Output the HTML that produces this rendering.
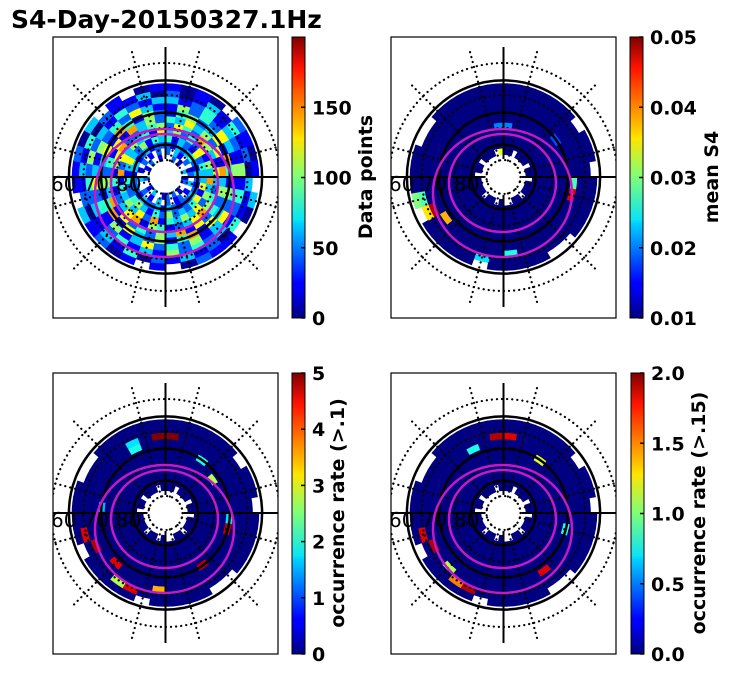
<!DOCTYPE html>
<html><head><meta charset="utf-8"><style>
html,body{margin:0;padding:0;background:#fff;}
svg{display:block;font-family:"DejaVu Sans","Liberation Sans",sans-serif;}
.tk{font-size:19px;font-weight:bold;fill:#000;}
.lb{font-size:19px;font-weight:bold;fill:#000;}
.lat{font-size:20px;fill:#000;}
</style></head><body>
<svg id="fig" width="731" height="674" viewBox="0 0 731 674" xmlns="http://www.w3.org/2000/svg">
<defs>
<linearGradient id="jet" x1="0" y1="1" x2="0" y2="0">
<stop offset="0" stop-color="#00007f"/><stop offset="0.11" stop-color="#0000ff"/><stop offset="0.125" stop-color="#0000ff"/>
<stop offset="0.34" stop-color="#00d4ff"/><stop offset="0.35" stop-color="#0ae4f5"/><stop offset="0.5" stop-color="#7dff7a"/>
<stop offset="0.64" stop-color="#ffe600"/><stop offset="0.66" stop-color="#ffd200"/><stop offset="0.89" stop-color="#ff1300"/><stop offset="1" stop-color="#7f0000"/>
</linearGradient>
</defs>
<text x="11" y="28" style="font-size:25px;font-weight:bold">S4-Day-20150327.1Hz</text>
<g id="panels"></g>
</svg>
<script>
// Panel 1: data points per (ring, sector); digit d -> d/9 * 180, '.' = no data
const p1Rings = [
"..2.1..3.12..1.2.21..3.1..2..1.2..1.",
"2.31.2.12.3.1.21.2.3.1.2..3.1.2.1.2.",
"213234213212322123132231222133123122",
"413216243361642325241354224136325143",
"352426153735263534172635341726353416",
"264275316324576321451763214156722345",
"436352617352426173524261735241617352",
"145236174152361741523617415236174152",
"152426315142631524263151426315242631",
"312413215142132425131421324252314213",
"201314120311402131204131021314021130",
"1010.2101.30.1120.1.10213.11203.1.01"
];
const p1Max = [200];
// Panels 2-4 shared coverage mask ('#' data, '.' none)
const covRings = [
"....................................",
"##.###.##.###.##..#.##.####.##.###.#",
"####################################",
"####################################",
"####################################",
"####################################",
"####################################",
"####################################",
"####################################",
"####################################",
"####################################",
"#####.##.####..####.####.####..#####"
];
// highlights: [ring, sector, fraction of colour range]
const p2Hi = [[1,35,0.6],[5,35,0.25],[5,0,0.25],[9,24,0.95],[10,24,0.65],[10,25,0.45],[11,25,0.5],[8,23,0.7],[9,17,0.4],[10,19,0.35],[8,10,0.9],[8,9,0.45],[7,5,0.2]];
const p3Hi = [[9,35,1.0],[9,0,1.0],[9,33,0.35],[8,33,0.4],[7,3,0.4],[6,5,0.55],[7,9,0.35],[7,10,0.95],[10,25,0.9],[9,24,0.95],[8,22,0.9],[10,21,0.55],[10,20,0.9],[9,18,0.7],[11,19,0.95],[7,14,0.95],[7,27,0.3]];
const p4Hi = [[9,35,0.95],[9,0,0.9],[8,33,0.4],[7,3,0.6],[7,10,0.4],[10,25,0.9],[9,24,0.95],[9,22,0.55],[10,21,0.75],[10,20,0.95],[8,14,0.9],[11,19,0.95]];
const cbTicks1 = ["0","50","100","150"], cbVals1=[0,50,100,150], cbMax1=200;
const cbTicks2 = ["0.01","0.02","0.03","0.04","0.05"], cbVals2=[0,0.25,0.5,0.75,1];
const cbTicks3 = ["0","1","2","3","4","5"], cbVals3=[0,0.2,0.4,0.6,0.8,1];
const cbTicks4 = ["0.0","0.5","1.0","1.5","2.0"], cbVals4=[0,0.25,0.5,0.75,1];
const latLabels = ["60","70","80"];

const NS="http://www.w3.org/2000/svg";
function jet(v){v=Math.max(0,Math.min(1,v));
 const r=Math.max(0,Math.min(1,1.5-Math.abs(4*v-3))),g=Math.max(0,Math.min(1,1.5-Math.abs(4*v-2))),b=Math.max(0,Math.min(1,1.5-Math.abs(4*v-1)));
 return `rgb(${Math.round(r*255)},${Math.round(g*255)},${Math.round(b*255)})`;}
function mk(tag,attrs,parent){const e=document.createElementNS(NS,tag);for(const k in attrs)e.setAttribute(k,attrs[k]);parent.appendChild(e);return e;}
const S=3.22;
function rOf(lat){return (90-lat)*S;}
function sector(cx,cy,r1,r2,a1,a2){
 const p=(r,a)=>[cx+r*Math.sin(a*Math.PI/180),cy-r*Math.cos(a*Math.PI/180)];
 const [x1,y1]=p(r2,a1),[x2,y2]=p(r2,a2),[x3,y3]=p(r1,a2),[x4,y4]=p(r1,a1);
 return `M${x1},${y1}A${r2},${r2} 0 0 1 ${x2},${y2}L${x3},${y3}A${r1},${r1} 0 0 0 ${x4},${y4}Z`;}
const root=document.getElementById('panels');
function panel(idx,bx,by,cell){
 const g=mk('g',{},root);
 
 
 const cp=mk('clipPath',{id:'cp'+idx},g);mk('rect',{x:bx,y:by,width:225,height:281},cp);
 const cg=mk('g',{'clip-path':`url(#cp${idx})`},g);
 const cx=bx+112.5, cy=by+140;
 for(let i=0;i<12;i++)for(let j=0;j<36;j++){
  const v=cell(i,j); if(v===null)continue;
  const r1=rOf(85-2*i), r2=rOf(83-2*i);
  const col=jet(v);
  const c=mk('path',{d:sector(cx,cy,r1,r2,j*10,j*10+10),fill:col,stroke:col,'stroke-width':0.8},cg);
  
  
 }
 // dotted grid
 [17,49,82,114].forEach(r=>mk('circle',{cx,cy,r,fill:'none',stroke:'#000','stroke-width':2.2,'stroke-dasharray':'0.1 5','stroke-linecap':'round'},cg));
 for(let a=15;a<360;a+=30){const s=Math.sin(a*Math.PI/180),c=-Math.cos(a*Math.PI/180);
  mk('line',{x1:cx+17*s,y1:cy+17*c,x2:cx+132*s,y2:cy+132*c,stroke:'#000','stroke-width':2.2,'stroke-dasharray':'0.1 5','stroke-linecap':'round'},cg);}
 // solid lat circles
 [60,70,80].forEach(l=>mk('circle',{cx,cy,r:rOf(l),fill:'none',stroke:'#000','stroke-width':2.5},cg));
 // crosshair
 mk('line',{x1:cx,y1:cy-130,x2:cx,y2:cy-18,stroke:'#000','stroke-width':2},cg);
 mk('line',{x1:cx,y1:cy+18,x2:cx,y2:cy+130,stroke:'#000','stroke-width':2},cg);
 mk('line',{x1:bx,y1:cy,x2:cx-18,y2:cy,stroke:'#000','stroke-width':2},cg);
 mk('line',{x1:cx+18,y1:cy,x2:bx+225,y2:cy,stroke:'#000','stroke-width':2},cg);
 // magenta ovals
 mk('ellipse',{cx:cx-1,cy:cy+16,rx:69.5,ry:64,fill:'none',stroke:'#c41ac4','stroke-width':2.5},cg);
 mk('ellipse',{cx:cx-1,cy:cy+6,rx:53.5,ry:49,fill:'none',stroke:'#c41ac4','stroke-width':2.5},cg);
 latLabels.forEach((l,k)=>{
  const t=mk('text',{x:bx-2+k*32.5,y:cy+14,class:'lat'},cg);t.textContent=l;
  
  
 });
 mk('rect',{x:bx,y:by,width:225,height:281,fill:'none',stroke:'#000','stroke-width':1.2},g);
}
function colorbar(idx,x,y,ticks,vals,label,lx){
 const g=mk('g',{},root);
 
 
 mk('rect',{x,y,width:13,height:281,fill:'url(#jet)',stroke:'#000','stroke-width':1},g);
 ticks.forEach((tk,k)=>{const ty=y+281-vals[k]*281;
  mk('line',{x1:x+9,y1:ty,x2:x+13,y2:ty,stroke:'#000','stroke-width':1.5},g);
  const t=mk('text',{x:x+20,y:ty+7,class:'tk'},g);t.textContent=tk;
  
  });
 const t=mk('text',{x:lx,y:y+140,class:'lb','text-anchor':'middle',transform:`rotate(-90 ${lx} ${y+140})`},g);t.textContent=label;
 
 
}
function hiCell(list){return (i,j)=>{if(covRings[i][j]!=='#')return null;for(const h of list)if(h[0]===i&&h[1]===j)return h[2];return 0;};}
panel(1,53,37,(i,j)=>{const c=p1Rings[i][j];if(c===undefined||c==='.')return null;return (+c)/9*180/p1Max[0]+0.02;});
panel(2,391,37,hiCell(p2Hi));
panel(3,53,373,hiCell(p3Hi));
panel(4,391,373,hiCell(p4Hi));
colorbar(1,292,37,cbTicks1,cbVals1.map(v=>v/cbMax1),'Data points',372);
colorbar(2,630,37,cbTicks2,cbVals2,'mean S4',718);
colorbar(3,292,373,cbTicks3,cbVals3,'occurrence rate (>.1)',344);
colorbar(4,631,373,cbTicks4,cbVals4,'occurrence rate (>.15)',705);
</script>
</body></html>
